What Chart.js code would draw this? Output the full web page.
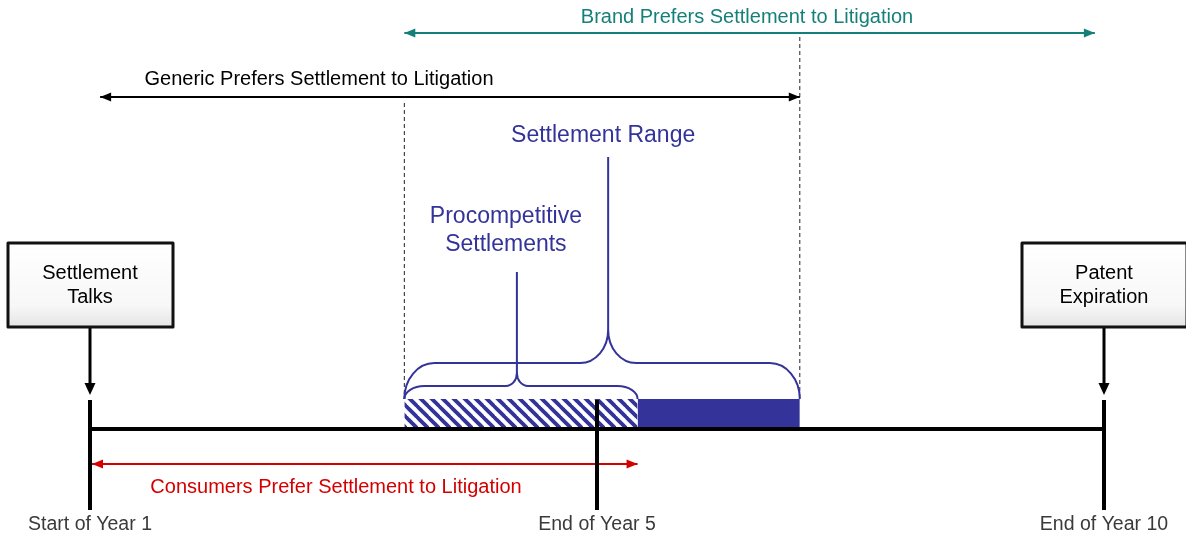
<!DOCTYPE html>
<html>
<head>
<meta charset="utf-8">
<script src="https://cdn.jsdelivr.net/npm/chart.js@4/dist/chart.umd.min.js"></script>
<style>
  html, body { margin: 0; padding: 0; background: #fff; }
  #wrap { width: 1186px; height: 540px; position: relative; }
</style>
</head>
<body>
<div id="wrap"><canvas id="diagram"></canvas></div>
<script>
// timeline data (years from start of year 1)
const yearTicks = [0, 5, 10];
const yearLabels = ['Start of Year 1', 'End of Year 5', 'End of Year 10'];

const milestoneYears = [0, 10];
const milestoneLabels = [['Settlement', 'Talks'], ['Patent', 'Expiration']];

const preferenceLabels = [
  'Brand Prefers Settlement to Litigation',
  'Generic Prefers Settlement to Litigation',
  'Consumers Prefer Settlement to Litigation'
];
const preferenceFrom = [3.1, 0.1, 0.02];
const preferenceTo = [9.91, 7.0, 5.4];

const procompetitiveRange = [3.1, 5.4];
const settlementRange = [3.1, 7.0];
// where each brace points (procompetitive, settlement range)
const braceTips = [4.21, 5.11];

// layout (vertical positions in canvas pixels, y axis runs 0..540 top-down)
const AXIS_Y = 429;
const BAR_TOP = 399;
const TICK_TOP = 400, TICK_BOTTOM = 510;
const PREF_Y = [33, 97, 464];
const PREF_TEXT_Y = [17, 79, 487];
const PREF_COLORS = ['#15807a', '#000000', '#d40000'];
const NAVY = '#333399';

// x scale: year 0 at 90px, year 10 at 1104px
const PX_PER_YEAR = 101.4;
const X_MIN = -90 / PX_PER_YEAR;
const X_MAX = X_MIN + 1186 / PX_PER_YEAR;

function hatchPattern() {
  const c = document.createElement('canvas');
  c.width = 11; c.height = 11;
  const g = c.getContext('2d');
  g.fillStyle = '#fff';
  g.fillRect(0, 0, 11, 11);
  g.strokeStyle = NAVY;
  g.lineWidth = 3.8;
  [-11, 0, 11].forEach(dx => {
    g.beginPath();
    g.moveTo(dx - 1, -1);
    g.lineTo(dx + 12, 12);
    g.stroke();
  });
  return g.createPattern(c, 'repeat');
}

function seg(x1, y1, x2, y2, color, width, extra) {
  return Object.assign({
    data: [{ x: x1, y: y1 }, { x: x2, y: y2 }],
    borderColor: color,
    borderWidth: width,
    pointRadius: 0,
    fill: false,
    clip: false,
    tension: 0
  }, extra || {});
}

const datasets = [];

// bars
datasets.push(Object.assign(seg(procompetitiveRange[0], BAR_TOP, procompetitiveRange[1], BAR_TOP, 'rgba(0,0,0,0)', 0), {
  fill: { value: AXIS_Y }, backgroundColor: hatchPattern(), order: 10
}));
datasets.push(Object.assign(seg(procompetitiveRange[1], BAR_TOP, settlementRange[1], BAR_TOP, 'rgba(0,0,0,0)', 0), {
  fill: { value: AXIS_Y }, backgroundColor: NAVY, order: 10
}));

// dashed guides at the settlement range edges
datasets.push(seg(settlementRange[0], 103, settlementRange[0], BAR_TOP, '#222', 1, { borderDash: [4, 3], order: 9 }));
datasets.push(seg(settlementRange[1], 37, settlementRange[1], BAR_TOP, '#222', 1, { borderDash: [4, 3], order: 9 }));

// main timeline and ticks
datasets.push(seg(yearTicks[0], AXIS_Y, yearTicks[yearTicks.length - 1], AXIS_Y, '#000', 4, { order: 2 }));
yearTicks.forEach(t => datasets.push(seg(t, TICK_TOP, t, TICK_BOTTOM, '#000', 4, { order: 1 })));

// preference arrows
preferenceFrom.forEach((f, i) => {
  datasets.push(seg(f, PREF_Y[i], preferenceTo[i], PREF_Y[i], PREF_COLORS[i], 2, { order: 3 }));
});

// milestone arrow stems
milestoneYears.forEach(m => datasets.push(seg(m, 327, m, 386, '#000', 3, { order: 3 })));

function tri(ctx, x, y, dir, len, half, color) {
  ctx.fillStyle = color;
  ctx.beginPath();
  if (dir === 'left') { ctx.moveTo(x, y); ctx.lineTo(x + len, y - half); ctx.lineTo(x + len, y + half); }
  if (dir === 'right') { ctx.moveTo(x, y); ctx.lineTo(x - len, y - half); ctx.lineTo(x - len, y + half); }
  if (dir === 'down') { ctx.moveTo(x, y); ctx.lineTo(x - half, y - len); ctx.lineTo(x + half, y - len); }
  ctx.closePath();
  ctx.fill();
}

// curly brace opening downwards: ends at yBase, top line at yTop, tip at (xm, tipY)
function brace(ctx, x1, x2, xm, yBase, yTop, tipY, r, r2) {
  const k = 0.552;
  const h = yBase - yTop, h2 = yTop - tipY;
  ctx.beginPath();
  ctx.moveTo(x1, yBase);
  ctx.bezierCurveTo(x1, yBase - k * h, x1 + r - k * r, yTop, x1 + r, yTop);
  ctx.lineTo(xm - r2, yTop);
  ctx.bezierCurveTo(xm - r2 + k * r2, yTop, xm, tipY + k * h2, xm, tipY);
  ctx.bezierCurveTo(xm, tipY + k * h2, xm + r2 - k * r2, yTop, xm + r2, yTop);
  ctx.lineTo(x2 - r, yTop);
  ctx.bezierCurveTo(x2 - r + k * r, yTop, x2, yBase - k * h, x2, yBase);
  ctx.stroke();
}

const annotations = {
  id: 'annotations',
  afterDatasetsDraw(chart) {
    const ctx = chart.ctx;
    const xs = chart.scales.x, ys = chart.scales.y;
    const px = v => xs.getPixelForValue(v);
    const py = v => ys.getPixelForValue(v);
    ctx.save();

    // arrowheads on preference ranges
    preferenceFrom.forEach((f, i) => {
      tri(ctx, px(f), py(PREF_Y[i]), 'left', 11, 4.5, PREF_COLORS[i]);
      tri(ctx, px(preferenceTo[i]), py(PREF_Y[i]), 'right', 11, 4.5, PREF_COLORS[i]);
    });

    ctx.textAlign = 'center';
    ctx.textBaseline = 'middle';
    ctx.font = '20px "Liberation Sans", Arial, sans-serif';
    preferenceLabels.forEach((t, i) => {
      const mid = i === 0 ? 747 : (i === 1 ? 319 : 336);
      ctx.fillStyle = PREF_COLORS[i];
      ctx.fillText(t, mid, py(PREF_TEXT_Y[i]));
    });

    // braces
    ctx.strokeStyle = NAVY;
    ctx.lineWidth = 2;
    ctx.lineJoin = 'round';
    const sx = px(braceTips[1]), pxm = px(braceTips[0]);
    brace(ctx, px(settlementRange[0]), px(settlementRange[1]), sx, py(BAR_TOP), py(363), py(330), 30, 28);
    brace(ctx, px(procompetitiveRange[0]), px(procompetitiveRange[1]), pxm, py(BAR_TOP), py(386), py(373), 20, 11);
    ctx.beginPath();
    ctx.moveTo(sx, py(330)); ctx.lineTo(sx, py(157));
    ctx.moveTo(pxm, py(373)); ctx.lineTo(pxm, py(272));
    ctx.stroke();

    ctx.fillStyle = NAVY;
    ctx.font = '23px "Liberation Sans", Arial, sans-serif';
    ctx.fillText('Settlement Range', sx - 5, py(136));
    ctx.fillText('Procompetitive', pxm - 11, py(217));
    ctx.fillText('Settlements', pxm - 11, py(245));

    // milestone boxes
    milestoneYears.forEach((m, i) => {
      const cx = px(m);
      const left = cx - 82, top = py(243), w = 165, h = py(327) - py(243);
      const grad = ctx.createLinearGradient(0, top, 0, top + h);
      grad.addColorStop(0, '#ffffff');
      grad.addColorStop(0.75, '#f7f7f7');
      grad.addColorStop(1, '#e4e4e4');
      ctx.fillStyle = grad;
      ctx.fillRect(left, top, w, h);
      ctx.strokeStyle = '#111';
      ctx.lineWidth = 3;
      ctx.strokeRect(left, top, w, h);
      ctx.fillStyle = '#000';
      ctx.font = '20px "Liberation Sans", Arial, sans-serif';
      ctx.fillText(milestoneLabels[i][0], cx, py(273));
      ctx.fillText(milestoneLabels[i][1], cx, py(297));
      tri(ctx, cx, py(395), 'down', 12, 5.5, '#000');
    });

    // tick labels
    ctx.fillStyle = '#3a3a3a';
    ctx.font = '19.5px "Liberation Sans", Arial, sans-serif';
    yearTicks.forEach((t, i) => ctx.fillText(yearLabels[i], px(t), py(525)));

    ctx.restore();
  }
};

new Chart(document.getElementById('diagram'), {
  type: 'scatter',
  data: { datasets: datasets },
  options: {
    responsive: true,
    maintainAspectRatio: false,
    animation: false,
    showLine: true,
    layout: { padding: 0 },
    plugins: { legend: { display: false }, tooltip: { enabled: false } },
    scales: {
      x: { type: 'linear', min: X_MIN, max: X_MAX, display: false },
      y: { type: 'linear', min: 0, max: 540, reverse: true, display: false }
    }
  },
  plugins: [annotations]
});
</script>
</body>
</html>
